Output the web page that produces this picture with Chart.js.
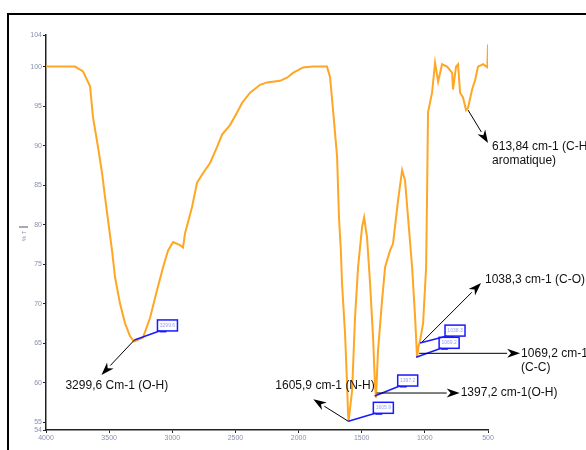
<!DOCTYPE html>
<html>
<head>
<meta charset="utf-8">
<script src="https://cdn.jsdelivr.net/npm/chart.js@4/dist/chart.umd.min.js"></script>
<style>
  html, body { margin: 0; padding: 0; background: #fff; }
  canvas { display: block; }
</style>
</head>
<body>
<canvas id="irChart" width="586" height="450"></canvas>
<script>
// spectrum (wavenumber cm-1, % T)
const wavenumber = [4000, 3770, 3707, 3651, 3628, 3588, 3556, 3533, 3509, 3477, 3453, 3414, 3374, 3335, 3303,
   3232, 3176, 3121, 3073, 3034, 2994, 2939, 2915, 2899, 2844, 2804, 2757, 2701, 2646, 2606, 2543, 2487, 2448,
   2384, 2305, 2250, 2147, 2091, 2044, 1965, 1885, 1775, 1751, 1727, 1695, 1680, 1665, 1656, 1632, 1616, 1608,
   1604, 1576, 1553, 1529, 1497, 1481, 1458, 1434, 1410, 1395, 1387, 1371, 1339, 1315, 1276, 1252, 1212, 1180,
   1157, 1133, 1101, 1077, 1062, 1050, 1038, 1014, 990, 982, 975, 943, 919, 895, 864, 824, 784, 777, 753, 737,
   721, 698, 674, 658, 626, 602, 579, 539, 505, 500];
const transmittance = [100, 100, 99.4, 97.5, 93.6, 89.8, 86.5, 83.5, 80.6, 76.7, 73.3, 70.0, 67.5, 65.9, 65.2,
   65.7, 68.2, 71.7, 74.6, 76.7, 77.8, 77.4, 77.1, 78.9, 82.2, 85.3, 86.5, 87.8, 89.8, 91.4, 92.6, 94.2, 95.4,
   96.7, 97.7, 98.0, 98.2, 98.6, 99.2, 99.9, 100, 100, 98.7, 94.5, 88.6, 80.9, 76.7, 72.6, 66.2, 59.8, 56.0,
   55.1, 59.0, 68.2, 74.6, 79.7, 80.9, 78.4, 72.6, 65.7, 59.8, 58.1, 64.0, 70.4, 74.6, 76.7, 77.6, 83.1, 86.9,
   85.6, 80.9, 74.6, 68.2, 63.2, 64.6, 65.3, 67.5, 74.6, 84.4, 94.2, 96.7, 100.5, 98.1, 100.3, 100, 99.2, 97.1, 100, 100.3,
   96.7, 96.1, 94.5, 94.8, 97.1, 98.3, 100, 100.3, 99.9, 102.8];

const xTicks = [4000, 3500, 3000, 2500, 2000, 1500, 1000, 500];
const yTicks = [54, 55, 60, 65, 70, 75, 80, 85, 90, 95, 100, 104];

// labelled peaks
const peakWn = [3299.6, 1605.9, 1397.2, 1069.2, 1038.3, 658];
const peakT = [65.4, 55.1, 58.3, 63.2, 65.0, 94.5];
const peakBox = ['3299.6', '1605.9', '1397.2', '1069.2', '1038.3', null];
const peakText = [
   ['3299,6 Cm-1 (O-H)'],
   ['1605,9 cm-1 (N-H)'],
   ['1397,2 cm-1(O-H)'],
   ['1069,2 cm-1', '(C-C)'],
   ['1038,3 cm-1 (C-O)'],
   ['613,84 cm-1 (C-H', 'aromatique)']
];

// where each callout goes, relative to its peak (px)
const callout = [
   { box: [23, -20], from: [0, 0], tip: [-33, 35], text: [-69, 46] },
   { box: [25, -19], from: [0, 0], tip: [-35, -22], text: [-73, -36] },
   { box: [23, -21], from: [2, -3], tip: [85, -3], text: [86, -3] },
   { box: [23, -20], from: [3, -4], tip: [104, -4], text: [105, -4] },
   { box: [25, -18], from: [2, -1], tip: [61, -60], text: [65, -63] },
   { box: null, from: [0, 0], tip: [20, 33], text: [24, 37] }
];

function arrow(ctx, x1, y1, x2, y2) {
   const a = Math.atan2(y2 - y1, x2 - x1);
   const len = 13, half = 4.5;
   ctx.beginPath();
   ctx.moveTo(x1, y1);
   ctx.lineTo(x2 - Math.cos(a) * len, y2 - Math.sin(a) * len);
   ctx.stroke();
   ctx.beginPath();
   ctx.moveTo(x2, y2);
   ctx.lineTo(x2 - Math.cos(a) * len - Math.sin(a) * half, y2 - Math.sin(a) * len + Math.cos(a) * half);
   ctx.lineTo(x2 - Math.cos(a) * len * 0.7, y2 - Math.sin(a) * len * 0.7);
   ctx.lineTo(x2 - Math.cos(a) * len + Math.sin(a) * half, y2 - Math.sin(a) * len - Math.cos(a) * half);
   ctx.closePath();
   ctx.fill();
}

const decorations = {
   id: 'decorations',
   afterDraw(chart) {
      const ctx = chart.ctx;
      const xs = chart.scales.x, ys = chart.scales.y;
      ctx.save();

      // outer frame
      ctx.strokeStyle = '#000';
      ctx.lineWidth = 2;
      ctx.beginPath();
      ctx.moveTo(8, 450);
      ctx.lineTo(8, 14);
      ctx.lineTo(586, 14);
      ctx.stroke();

      // y title
      ctx.fillStyle = '#8890b0';
      ctx.font = '6px "Liberation Sans"';
      ctx.save();
      ctx.translate(24, 236);
      ctx.rotate(-Math.PI / 2);
      ctx.textAlign = 'center';
      ctx.textBaseline = 'middle';
      ctx.fillText('% T', 0, 0);
      ctx.restore();
      ctx.strokeStyle = '#555';
      ctx.lineWidth = 1;
      ctx.beginPath();
      ctx.moveTo(19, 227);
      ctx.lineTo(28, 227);
      ctx.stroke();

      peakWn.forEach((wn, i) => {
         const px = xs.getPixelForValue(wn);
         const py = ys.getPixelForValue(peakT[i]);
         const c = callout[i];

         if (c.box) {
            const bx = px + c.box[0], by = py + c.box[1], bw = 20, bh = 11;
            ctx.strokeStyle = '#1a1aff';
            ctx.lineWidth = 1.5;
            ctx.beginPath();
            ctx.moveTo(px, py);
            ctx.lineTo(bx + 2, by + bh);
            ctx.stroke();
            ctx.strokeRect(bx, by, bw, bh);
            ctx.fillStyle = '#1a1aff';
            ctx.fillRect(bx + 2, by + bh, 7, 1.5);
            ctx.fillStyle = '#9aa0ff';
            ctx.font = '5px "Liberation Sans"';
            ctx.textAlign = 'center';
            ctx.textBaseline = 'middle';
            ctx.fillText(peakBox[i], bx + bw / 2, by + bh / 2);
         }

         ctx.strokeStyle = '#000';
         ctx.fillStyle = '#000';
         ctx.lineWidth = 1;
         arrow(ctx, px + c.from[0], py + c.from[1], px + c.tip[0], py + c.tip[1]);

         ctx.fillStyle = '#111';
         ctx.font = '12px "Liberation Sans"';
         ctx.textAlign = 'left';
         ctx.textBaseline = 'middle';
         peakText[i].forEach((line, k) => {
            ctx.fillText(line, px + c.text[0], py + c.text[1] + k * 14);
         });
      });
      ctx.restore();
   }
};

new Chart(document.getElementById('irChart'), {
   type: 'line',
   data: {
      datasets: [{
         data: wavenumber.map((w, i) => ({ x: w, y: transmittance[i] })),
         borderColor: '#ffa624',
         borderWidth: 2,
         pointRadius: 0,
         tension: 0,
         fill: false
      }]
   },
   options: {
      responsive: false,
      animation: false,
      devicePixelRatio: 1,
      layout: { padding: { left: 0, top: 35, right: 98, bottom: 0 } },
      plugins: { legend: { display: false }, tooltip: { enabled: false } },
      scales: {
         x: {
            type: 'linear',
            reverse: true,
            min: 500,
            max: 4000,
            afterBuildTicks: s => { s.ticks = xTicks.map(v => ({ value: v })); },
            afterFit: s => { s.height = 20; },
            ticks: {
               color: '#8890b0',
               font: { family: 'Liberation Sans', size: 7 },
               padding: 1,
               maxRotation: 0,
               callback: v => String(v)
            },
            grid: { drawOnChartArea: false, color: '#222', tickLength: 3 },
            border: { color: '#222', width: 1.5 }
         },
         y: {
            min: 54,
            max: 104,
            afterBuildTicks: s => { s.ticks = yTicks.map(v => ({ value: v })); },
            afterFit: s => { s.width = 46; },
            ticks: {
               color: '#8890b0',
               font: { family: 'Liberation Sans', size: 7 },
               padding: 1,
               callback: v => String(v)
            },
            grid: { drawOnChartArea: false, color: '#222', tickLength: 3 },
            border: { color: '#222', width: 1.5 }
         }
      }
   },
   plugins: [decorations]
});
</script>
</body>
</html>
